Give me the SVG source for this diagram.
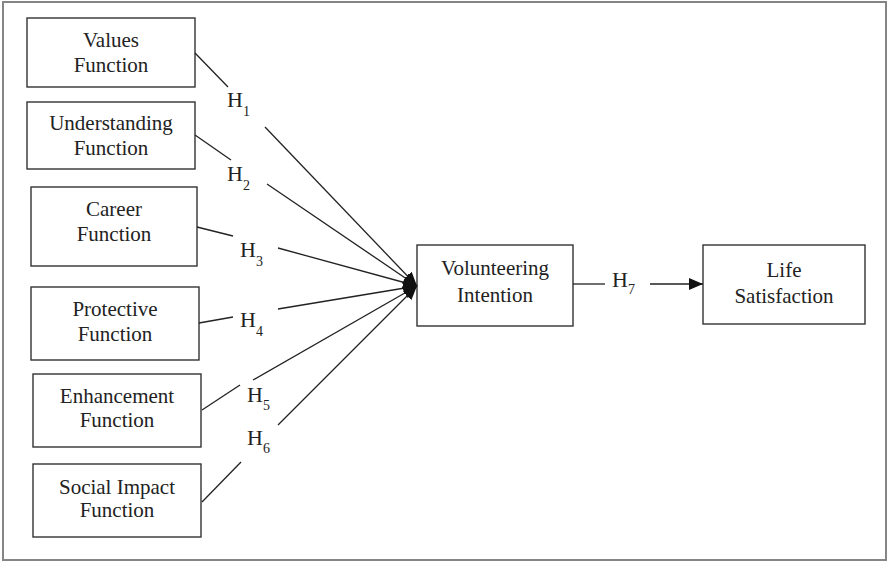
<svg xmlns="http://www.w3.org/2000/svg" width="888" height="562" viewBox="0 0 888 562">
<defs>
<style>
.frame{fill:#fff;stroke:#858585;stroke-width:2}
.box{fill:#fff;stroke:#333;stroke-width:1.4}
.t{font-family:"Liberation Serif","Times New Roman",serif;font-size:21px;fill:#222;text-anchor:middle}
.h{font-family:"Liberation Serif","Times New Roman",serif;font-size:22px;fill:#222}
.s{font-size:14px}
.ln{stroke:#222;stroke-width:1.3;fill:none}
</style>
<marker id="ah" viewBox="0 0 14 12" refX="14" refY="6" markerWidth="14" markerHeight="12" markerUnits="userSpaceOnUse" orient="auto">
<path d="M0,0 L14,6 L0,12 Z" fill="#111"/>
</marker>
</defs>
<rect class="frame" x="3" y="2" width="883" height="558"/>
<g id="values"><rect class="box" x="27" y="18" width="168" height="69"/><text class="t" x="111" y="47">Values</text><text class="t" x="111" y="72">Function</text></g>
<g id="understanding"><rect class="box" x="27" y="102" width="168" height="67"/><text class="t" x="111" y="130">Understanding</text><text class="t" x="111" y="155">Function</text></g>
<g id="career"><rect class="box" x="31" y="187" width="166" height="79"/><text class="t" x="114" y="216">Career</text><text class="t" x="114" y="241">Function</text></g>
<g id="protective"><rect class="box" x="31" y="287" width="168" height="73"/><text class="t" x="115" y="316">Protective</text><text class="t" x="115" y="341">Function</text></g>
<g id="enhancement"><rect class="box" x="33" y="374" width="168" height="73"/><text class="t" x="117" y="403">Enhancement</text><text class="t" x="117" y="427">Function</text></g>
<g id="social"><rect class="box" x="33" y="464" width="168" height="73"/><text class="t" x="117" y="494">Social Impact</text><text class="t" x="117" y="517">Function</text></g>
<g id="volunteering"><rect class="box" x="417" y="245" width="156" height="81"/><text class="t" x="495" y="275">Volunteering</text><text class="t" x="495" y="302">Intention</text></g>
<g id="life"><rect class="box" x="703" y="245" width="162" height="79"/><text class="t" x="784" y="277">Life</text><text class="t" x="784" y="303">Satisfaction</text></g>
<g id="connectors">
<line class="ln" x1="195" y1="53" x2="228" y2="87"/>
<line class="ln" x1="265" y1="127" x2="417" y2="286" marker-end="url(#ah)"/>
<line class="ln" x1="195" y1="135" x2="231" y2="160"/>
<line class="ln" x1="267" y1="184" x2="417" y2="286" marker-end="url(#ah)"/>
<line class="ln" x1="197" y1="227" x2="233" y2="236"/>
<line class="ln" x1="278" y1="248" x2="417" y2="286" marker-end="url(#ah)"/>
<line class="ln" x1="199" y1="323" x2="233" y2="317"/>
<line class="ln" x1="278" y1="309" x2="417" y2="286" marker-end="url(#ah)"/>
<line class="ln" x1="202" y1="410" x2="240" y2="385"/>
<line class="ln" x1="253" y1="380" x2="417" y2="286" marker-end="url(#ah)"/>
<line class="ln" x1="202" y1="502" x2="241" y2="462"/>
<line class="ln" x1="278" y1="425" x2="417" y2="286" marker-end="url(#ah)"/>
<line class="ln" x1="573" y1="284" x2="605" y2="284"/>
<line class="ln" x1="650" y1="284" x2="703" y2="284" marker-end="url(#ah)"/>
</g>
<g id="labels">
<text class="h" x="227" y="107">H<tspan class="s" dy="9">1</tspan></text>
<text class="h" x="227" y="181">H<tspan class="s" dy="9">2</tspan></text>
<text class="h" x="240" y="257">H<tspan class="s" dy="9">3</tspan></text>
<text class="h" x="240" y="327">H<tspan class="s" dy="9">4</tspan></text>
<text class="h" x="247" y="402">H<tspan class="s" dy="8">5</tspan></text>
<text class="h" x="247" y="445">H<tspan class="s" dy="8">6</tspan></text>
<text class="h" x="612" y="287">H<tspan class="s" dy="7">7</tspan></text>
</g>
</svg>
